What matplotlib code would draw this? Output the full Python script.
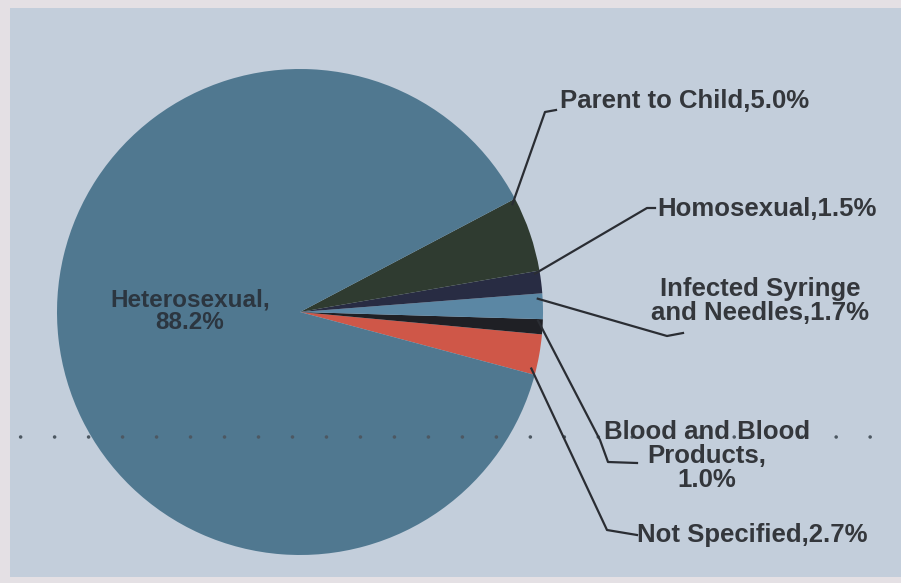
"""Pie chart of HIV transmission routes, redrawn from a scanned figure."""

import numpy as np
import matplotlib.pyplot as plt
from matplotlib.patches import Rectangle

W, H = 901, 583

# wedge order is counter-clockwise, starting at the bottom of the red slice
routes = ["Not Specified", "Blood and Blood\nProducts", "Infected Syringe\nand Needles",
          "Homosexual", "Parent to Child", "Heterosexual"]
shares = [2.7, 1.0, 1.7, 1.5, 5.0, 88.2]
joiners = [",", ",\n", ",", ",", ",", ",\n"]
colors = ["#cf5748", "#1f2025", "#5b87a4", "#282c43", "#2f3b30", "#507890"]

plt.rcParams['font.family'] = ['Liberation Sans', 'DejaVu Sans']
TXT = '#34373c'
LINE = '#2a2d33'
FS = 18.5


def img(x, y):
    # picture pixel coords (y down) -> data coords (y up)
    return x, H - y


fig = plt.figure(figsize=(W / 100, H / 100), dpi=100, facecolor='#e4e0e4')
ax = fig.add_axes([0, 0, 1, 1])
ax.add_patch(Rectangle(img(10, 577), W - 10, 569, facecolor='#c3cedb',
                       edgecolor='none', zorder=0))

cx, cy = img(300, 312)
radius = 243
wedges, _ = ax.pie(shares, colors=colors, startangle=-15, counterclock=True,
                   center=(cx, cy), radius=radius, frame=True,
                   wedgeprops=dict(linewidth=0))
ax.set_xlim(0, W)
ax.set_ylim(0, H)
ax.set_aspect('equal')
ax.axis('off')

# dotted rule across the page
ax.axhline(img(0, 437)[1], color='#4d5862', lw=2.6, linestyle=(3.7, (0.01, 9.4)),
           dash_capstyle='round', zorder=3)

labels = [f"{n}{j}{v:.1f}%" for n, v, j in zip(routes, shares, joiners)]

# (fraction across wedge for leader start, leader path, text pos, alignment)
callouts = {
    "Not Specified": (0.13, [(607, 530), (637, 535)], (637, 535), 'left'),
    "Blood and Blood\nProducts": (0.9, [(600, 440), (608, 462), (637, 463)],
                                  (707, 456), 'center'),
    "Infected Syringe\nand Needles": (0.8, [(667, 336), (683, 333)],
                                      (760, 301), 'center'),
    "Homosexual": (0.9, [(647, 208), (655, 208)], (657, 209), 'left'),
    "Parent to Child": (0.95, [(545, 112), (556, 110)], (560, 101), 'left'),
}

for w, name, lab in zip(wedges, routes, labels):
    if name not in callouts:
        x, y = img(190, 311)
        ax.text(x, y, lab, ha='center', va='center', fontsize=17.5,
                fontweight='bold', color='#2c3640', linespacing=1.0, zorder=5)
        continue
    frac, path, tpos, ha = callouts[name]
    ang = np.deg2rad(w.theta1 + frac * (w.theta2 - w.theta1))
    r = radius * 0.98
    xs = [cx + r * np.cos(ang)] + [p[0] for p in path]
    ys = [cy + r * np.sin(ang)] + [img(*p)[1] for p in path]
    ax.plot(xs, ys, color=LINE, lw=1.6, zorder=4)
    x, y = img(*tpos)
    ax.text(x, y, lab, ha=ha, va='center', fontsize=FS, fontweight='bold',
            color=TXT, linespacing=0.98, multialignment='center', zorder=5)

fig.savefig('out.png', dpi=100, facecolor=fig.get_facecolor())
